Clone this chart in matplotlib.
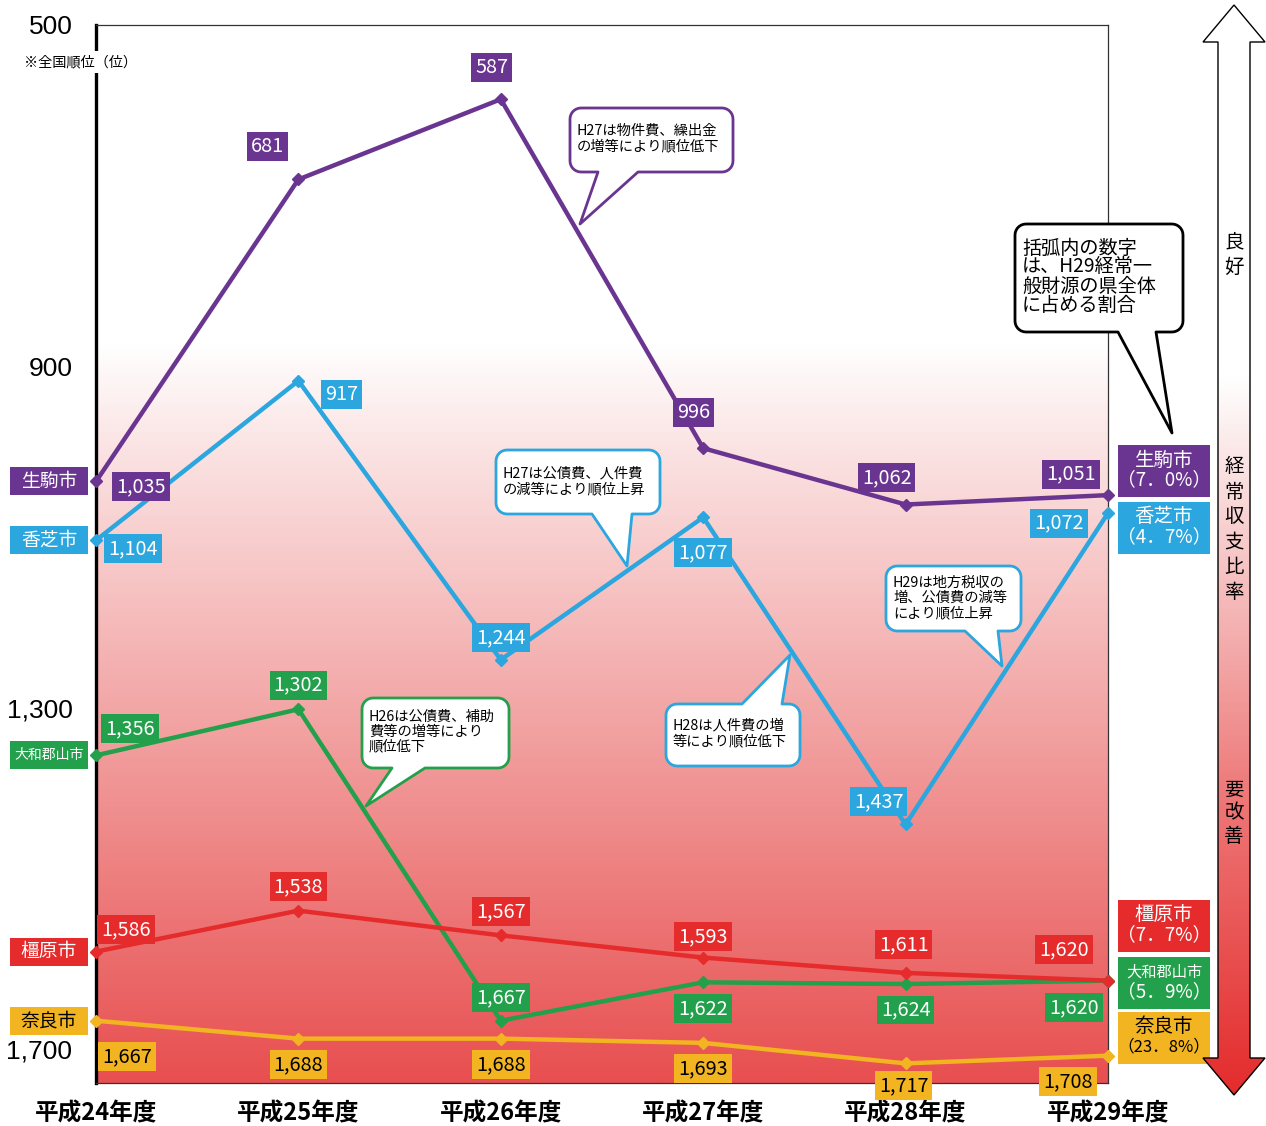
import numpy as np
import matplotlib
matplotlib.use('Agg')
import matplotlib.pyplot as plt
from matplotlib.colors import LinearSegmentedColormap
from matplotlib.patches import Polygon, Rectangle

plt.rcParams['font.family'] = ['Noto Sans CJK JP', 'DejaVu Sans']

# data
years = ['平成24年度', '平成25年度', '平成26年度', '平成27年度', '平成28年度', '平成29年度']
cities = ['生駒市', '香芝市', '大和郡山市', '橿原市', '奈良市']
ikoma = [1035, 681, 587, 996, 1062, 1051]
kashiba = [1104, 917, 1244, 1077, 1437, 1072]
koriyama = [1356, 1302, 1667, 1622, 1624, 1620]
kashihara = [1586, 1538, 1567, 1593, 1611, 1620]
nara = [1667, 1688, 1688, 1693, 1717, 1708]
shares = ['（7．0%）', '（4．7%）', '（5．9%）', '（7．7%）', '（23．8%）']
yticks = [500, 900, 1300, 1700]
ytick_labels = ['500', '900', '1,300', '1,700']

series = [ikoma, kashiba, koriyama, kashihara, nara]
colors = ['#6A3590', '#2BA6DE', '#22A04B', '#E52B2B', '#F2B420']
text_colors = ['white', 'white', 'white', 'white', 'black']

# label offsets (pixels, y up)
offsets = [
    [(45, -5), (-31, 33), (-9, 32), (-10, 36), (-19, 27), (-37, 21)],
    [(37, -8), (43, -14), (0, 22), (0, -35), (-27, 23), (-49, -10)],
    [(34, 27), (0, 24), (0, 23), (0, -26), (0, -26), (-34, -27)],
    [(30, 22), (0, 24), (0, 24), (0, 21), (-2, 28), (-44, 31)],
    [(31, -36), (0, -26), (0, -26), (0, -26), (-2, -22), (-40, -26)],
]

W, H = 1266, 1126
fig = plt.figure(figsize=(W / 100, H / 100), dpi=100)
ax = fig.add_axes([96 / W, 1 - 1083 / H, (1108 - 96) / W, (1083 - 25) / H])
ax.set_xlim(0, 5)
ax.set_ylim(1740, 500)

# background gradient
bg = LinearSegmentedColormap.from_list('bg', [(0, 'white'), (0.3, 'white'), (0.4, '#FBE3E3'),
                                              (0.64, '#F3A8A8'), (1, '#E84F50')])
grad = np.linspace(0, 1, 500).reshape(-1, 1)
ax.imshow(grad, cmap=bg, aspect='auto', extent=[0, 5, 1740, 500], zorder=0)

x = np.arange(len(years))
for vals, c, tc, offs in zip(series, colors, text_colors, offsets):
    ax.plot(x, vals, color=c, lw=3.2, marker='D', markersize=6.5, zorder=3, clip_on=False)
    for xi, v, (dx, dy) in zip(x, vals, offs):
        ax.annotate(f'{v:,}', (xi, v), xytext=(dx, dy), textcoords='offset pixels',
                    ha='center', va='center', fontsize=14.3, color=tc, zorder=5,
                    annotation_clip=False,
                    bbox=dict(boxstyle='square,pad=0.2', fc=c, ec='none'))

ax.set_xticks(x)
ax.set_xticklabels(years, fontsize=17, fontweight='bold')
ax.set_yticks(yticks)
ax.set_yticklabels(ytick_labels, fontsize=19, family='Liberation Sans')
ax.tick_params(axis='x', length=0, pad=13)
ax.tick_params(axis='y', length=0, pad=17)
ax.spines['left'].set_linewidth(2.4)
ax.spines['left'].set_color('black')
for s in ['top', 'right', 'bottom']:
    ax.spines[s].set_linewidth(0.9)
    ax.spines[s].set_color('#333333')

# overlay in pixel coordinates
ov = fig.add_axes([0, 0, 1, 1], zorder=10)
ov.set_xlim(0, W)
ov.set_ylim(H, 0)
ov.axis('off')
ov.patch.set_alpha(0)

ov.text(24, 62, '※全国順位（位）', fontsize=10.2, va='center', ha='left',
        bbox=dict(boxstyle='square,pad=0.3', fc='white', ec='none'))


def bubble(x0, y0, x1, y1, side, a, b, tip, color, lines, fs, ty, step, r=11):
    def arc(cx, cy, t0, t1):
        t = np.radians(np.linspace(t0, t1, 8))
        return list(zip(cx + r * np.cos(t), cy + r * np.sin(t)))
    v = [(x0 + r, y0)]
    if side == 'top':
        v += [(a, y0), tip, (b, y0)]
    v += arc(x1 - r, y0 + r, -90, 0)
    v += arc(x1 - r, y1 - r, 0, 90)
    if side == 'bottom':
        v += [(b, y1), tip, (a, y1)]
    v += arc(x0 + r, y1 - r, 90, 180)
    v += arc(x0 + r, y0 + r, 180, 270)
    ov.add_patch(Polygon(v, closed=True, fc='white', ec=color, lw=2, joinstyle='round'))
    for i, line in enumerate(lines):
        ov.text(x0 + 7, ty + i * step, line, fontsize=fs, va='center', ha='left')


bubble(570, 108, 733, 172, 'bottom', 598, 638, (580, 224), colors[0],
       ['H27は物件費、繰出金', 'の増等により順位低下'], 10.3, 131, 15)
bubble(496, 450, 660, 514, 'bottom', 592, 632, (627, 566), colors[1],
       ['H27は公債費、人件費', 'の減等により順位上昇'], 10.3, 473, 16)
bubble(362, 698, 509, 768, 'bottom', 392, 425, (366, 806), colors[2],
       ['H26は公債費、補助', '費等の増等により', '順位低下'], 10.3, 717, 14.5)
bubble(666, 704, 800, 766, 'top', 742, 782, (790, 655), colors[1],
       ['H28は人件費の増', '等により順位低下'], 10.3, 725, 16)
bubble(886, 566, 1021, 631, 'bottom', 965, 998, (1002, 666), colors[1],
       ['H29は地方税収の', '増、公債費の減等', 'により順位上昇'], 10.3, 583, 15)
bubble(1015, 224, 1183, 332, 'bottom', 1118, 1156, (1172, 433), 'black',
       ['括弧内の数字', 'は、H29経常一', '般財源の県全体', 'に占める割合'], 13.8, 248, 19)

# left city labels
fig.canvas.draw()
for name, vals, c, tc in zip(cities, series, colors, text_colors):
    py = H - ax.transData.transform((0, vals[0]))[1]
    ov.add_patch(Rectangle((10, py - 14), 78, 28, fc=c, ec='none'))
    fs = 10 if len(name) > 3 else 13.5
    ov.text(49, py, name, fontsize=fs, color=tc, ha='center', va='center')

# right city labels
right_y = [471, 528, 983, 926, 1038]
for name, share, c, tc, cy in zip(cities, shares, colors, text_colors, right_y):
    ov.add_patch(Rectangle((1118, cy - 26), 92, 52, fc=c, ec='none'))
    fs = 11 if len(name) > 3 else 14
    ov.text(1164, cy - 11, name, fontsize=fs, color=tc, ha='center', va='center')
    ov.text(1164, cy + 9, share, fontsize=13.5 if len(share) < 7 else 12,
            color=tc, ha='center', va='center')

# right arrow
arrow = Polygon([(1234, 5), (1203, 42), (1218, 42), (1218, 1058), (1203, 1058), (1234, 1095),
                 (1265, 1058), (1250, 1058), (1250, 42), (1265, 42)],
                closed=True, fc='none', ec='black', lw=1, zorder=3)
ov.add_patch(arrow)
ac = LinearSegmentedColormap.from_list('ar', [(0, 'white'), (0.34, 'white'), (0.43, '#FAE0E0'),
                                              (0.58, '#F4AEAE'), (0.73, '#EE7777'), (1, '#E42C2C')])
im = ov.imshow(np.linspace(0, 1, 500).reshape(-1, 1), cmap=ac, aspect='auto',
               extent=[1203, 1265, 1095, 5], zorder=2)
im.set_clip_path(arrow)
ov.set_xlim(0, W)
ov.set_ylim(H, 0)
for chars, y0, step in [('良好', 242, 25), ('経常収支比率', 467, 25), ('要改善', 790, 23)]:
    for i, ch in enumerate(chars):
        ov.text(1234, y0 + i * step, ch, fontsize=14, ha='center', va='center', zorder=4)

fig.savefig('out.png', dpi=100)
